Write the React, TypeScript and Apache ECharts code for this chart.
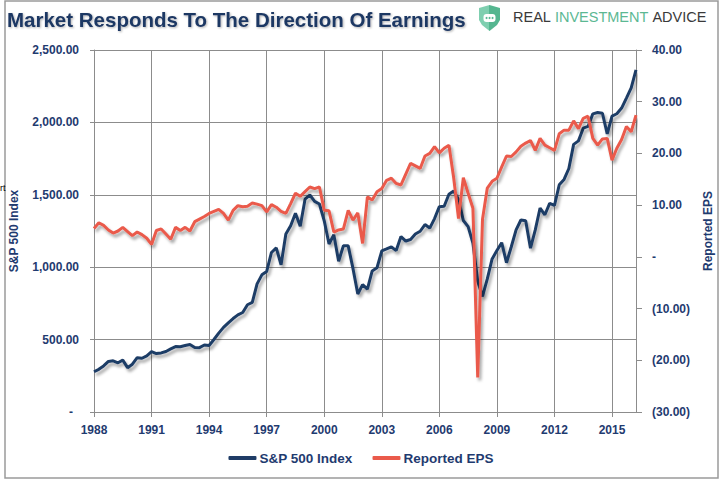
import React, { useEffect, useRef } from "react";
import * as echarts from "echarts";

// Quarterly categories: 1988 Q4 .. 2017 Q1
const FIRST_YEAR = 1988;
const FIRST_QUARTER = 4;
const N_POINTS = 114;
const categories: string[] = [];
for (let i = 0; i < N_POINTS; i++) {
  const q = FIRST_QUARTER - 1 + i;
  categories.push(`${FIRST_YEAR + Math.floor(q / 4)} Q${(q % 4) + 1}`);
}

const sp500Index: number[] = [
  277.7, 294.9, 318.0, 349.2, 353.4, 339.9, 358.0, 306.1, 330.2, 375.2,
  371.2, 387.9, 417.1, 403.7, 408.1, 417.8, 435.7, 451.7, 450.5, 458.9,
  466.5, 445.8, 444.3, 462.7, 459.3, 500.7, 544.8, 584.4, 615.9, 645.5,
  670.6, 687.3, 740.7, 757.1, 885.1, 947.3, 970.4, 1101.8, 1133.8, 1017.0,
  1229.2, 1286.4, 1372.7, 1282.7, 1469.3, 1498.6, 1454.6, 1436.5, 1320.3, 1160.3,
  1224.4, 1040.9, 1148.1, 1147.4, 989.8, 815.3, 879.8, 848.2, 974.5, 996.0,
  1111.9, 1126.2, 1140.8, 1114.6, 1211.9, 1180.6, 1191.3, 1228.8, 1248.3, 1294.8,
  1270.2, 1335.9, 1418.3, 1420.9, 1503.4, 1526.8, 1468.4, 1322.7, 1280.0, 1166.4,
  903.3, 797.9, 919.3, 1057.1, 1115.1, 1169.4, 1030.7, 1141.2, 1257.6, 1325.8,
  1320.6, 1131.4, 1257.6, 1408.5, 1362.2, 1440.7, 1426.2, 1569.2, 1606.3, 1681.6,
  1848.4, 1872.3, 1960.2, 1972.3, 2058.9, 2067.9, 2063.1, 1920.0, 2043.9, 2059.7,
  2098.9, 2168.3, 2238.8, 2362.7,
];

const reportedEps: number[] = [
  5.5, 6.6, 6.1, 5.2, 4.6, 5.0, 5.7, 4.9, 4.1, 4.8,
  4.3, 3.6, 2.4, 5.1, 5.4, 4.4, 3.4, 5.7, 5.1, 5.7,
  5.0, 6.8, 7.3, 7.8, 8.4, 8.8, 9.2, 8.4, 7.1, 9.0,
  9.9, 9.7, 9.8, 10.4, 10.2, 9.9, 8.7, 10.1, 9.6, 8.8,
  8.4, 10.3, 12.3, 11.7, 12.6, 13.5, 13.2, 13.5, 9.0, 8.9,
  4.8, 5.2, 5.4, 9.0, 7.1, 8.5, 2.6, 11.6, 11.0, 12.6,
  13.2, 14.8, 15.2, 14.2, 13.9, 16.0, 18.1, 17.6, 17.1, 19.5,
  20.0, 21.3, 20.1, 21.0, 21.6, 15.2, 7.4, 15.3, 12.3, 9.4,
  -23.3, 7.3, 13.3, 14.6, 15.2, 17.4, 19.5, 19.4, 20.3, 21.4,
  22.0, 22.5, 20.6, 22.9, 21.6, 21.1, 20.6, 23.8, 24.5, 24.5,
  26.3, 24.8, 26.8, 27.2, 22.9, 21.6, 22.8, 22.9, 18.7, 21.0,
  22.7, 25.2, 24.2, 27.4,
];

const TITLE = "Market Responds To The Direction Of Earnings";
const SERIES_NAMES = ["S&P 500 Index", "Reported EPS"];
const LEFT_AXIS = { min: 0, max: 2500, interval: 500 };
const RIGHT_AXIS = { min: -30, max: 40, interval: 10 };

const NAVY = "#1F3C66";
const RED = "#EA5A4B";
const LABEL = "#1F3B70";
const GRID = "#8C8C8C";
const FONT = "'Liberation Sans', Arial, sans-serif";

function leftFmt(v: number) {
  if (v === 0) return "{d|-}";
  return v.toLocaleString("en-US", { minimumFractionDigits: 2, maximumFractionDigits: 2 });
}
function rightFmt(v: number) {
  if (v === 0) return "-";
  if (v < 0) return `(${Math.abs(v).toFixed(2)})`;
  return v.toFixed(2);
}

export default function App() {
  const ref = useRef<HTMLDivElement>(null);
  useEffect(() => {
    if (!ref.current) return;
    const chart = echarts.init(ref.current, undefined, { renderer: "svg" });
    const lineShadow = {
      shadowColor: "rgba(0,0,0,0.35)",
      shadowBlur: 3,
      shadowOffsetX: 2,
      shadowOffsetY: 3,
    };
    chart.setOption({
      animation: false,
      backgroundColor: "#ffffff",
      textStyle: { fontFamily: FONT },
      grid: { left: 90, right: 82, top: 50, bottom: 71, containLabel: false },
      legend: {
        data: SERIES_NAMES,
        left: "center",
        top: 446,
        icon: "roundRect",
        itemWidth: 28,
        itemHeight: 4,
        itemGap: 20,
        textStyle: { color: LABEL, fontWeight: "bold", fontSize: 13.5, fontFamily: FONT, padding: [0, 0, 0, -2] },
      },
      xAxis: {
        type: "category",
        data: categories,
        boundaryGap: false,
        axisLine: { lineStyle: { color: GRID, width: 1 } },
        axisTick: { interval: 11, length: 5, lineStyle: { color: GRID } },
        axisLabel: {
          interval: 11,
          margin: 12,
          color: LABEL,
          fontWeight: "bold",
          fontSize: 12,
          fontFamily: FONT,
          formatter: (v: string) => v.slice(0, 4),
        },
        splitLine: { show: true, interval: 11, lineStyle: { color: GRID, width: 1 } },
      },
      yAxis: [
        {
          type: "value",
          min: LEFT_AXIS.min,
          max: LEFT_AXIS.max,
          interval: LEFT_AXIS.interval,
          position: "left",
          name: SERIES_NAMES[0],
          nameLocation: "middle",
          nameRotate: 90,
          nameGap: 74,
          nameTextStyle: { color: LABEL, fontWeight: "bold", fontSize: 12, fontFamily: FONT },
          axisLine: { show: true, lineStyle: { color: GRID } },
          axisTick: { show: true, length: 4, lineStyle: { color: GRID } },
          axisLabel: {
            margin: 15,
            color: LABEL,
            fontWeight: "bold",
            fontSize: 12,
            fontFamily: FONT,
            formatter: leftFmt,
            rich: { d: { color: LABEL, fontWeight: "bold", fontSize: 12, padding: [0, 6, 0, 0] } },
          },
          splitLine: { show: true, lineStyle: { color: GRID, width: 1 } },
        },
        {
          type: "value",
          min: RIGHT_AXIS.min,
          max: RIGHT_AXIS.max,
          interval: RIGHT_AXIS.interval,
          position: "right",
          name: SERIES_NAMES[1],
          nameLocation: "middle",
          nameRotate: 90,
          nameGap: 66,
          nameTextStyle: { color: LABEL, fontWeight: "bold", fontSize: 12, fontFamily: FONT },
          axisLine: { show: true, lineStyle: { color: GRID } },
          axisTick: { show: true, length: 6, lineStyle: { color: GRID } },
          axisLabel: {
            margin: 16,
            color: LABEL,
            fontWeight: "bold",
            fontSize: 12,
            fontFamily: FONT,
            formatter: rightFmt,
          },
          splitLine: { show: false },
        },
      ],
      series: [
        {
          name: SERIES_NAMES[0],
          type: "line",
          yAxisIndex: 0,
          data: sp500Index,
          symbol: "none",
          color: NAVY,
          lineStyle: { color: NAVY, width: 3, ...lineShadow },
        },
        {
          name: SERIES_NAMES[1],
          type: "line",
          yAxisIndex: 1,
          data: reportedEps,
          symbol: "none",
          color: RED,
          lineStyle: { color: RED, width: 3, ...lineShadow },
        },
      ],
      graphic: [
        {
          type: "rect",
          shape: { x: 5, y: 1, width: 713, height: 477 },
          style: { fill: "none", stroke: "#9A9A9A", lineWidth: 1.5 },
          silent: true,
        },
        {
          type: "text",
          x: 0,
          y: 188,
          style: { text: "rt", fill: "#000", fontSize: 9, fontFamily: FONT, align: "left", verticalAlign: "middle" },
        },
        {
          type: "text",
          x: 7,
          y: 19,
          style: {
            text: TITLE,
            fill: "#1F3864",
            fontSize: 20.5,
            fontWeight: "bold",
            fontFamily: FONT,
            verticalAlign: "middle",
            textShadowColor: "rgba(0,0,0,0.3)",
            textShadowBlur: 2,
            textShadowOffsetX: 1,
            textShadowOffsetY: 1,
          },
        },
        {
          type: "polygon",
          shape: {
            points: [
              [479, 8], [489.5, 5], [500, 8], [500, 20], [497, 25], [489.5, 31], [482, 25], [479, 20],
            ],
          },
          style: {
            fill: new echarts.graphic.LinearGradient(0, 0, 1, 0, [
              { offset: 0, color: "#7FCFB0" },
              { offset: 0.5, color: "#7FCFB0" },
              { offset: 0.5, color: "#55B690" },
              { offset: 1, color: "#55B690" },
            ]),
          },
        },
        {
          type: "rect",
          shape: { x: 483.5, y: 14, width: 12, height: 8, r: 3 },
          style: { fill: "#ffffff" },
        },
        { type: "circle", shape: { cx: 486.5, cy: 18, r: 1 }, style: { fill: "#55B690" } },
        { type: "circle", shape: { cx: 489.5, cy: 18, r: 1 }, style: { fill: "#55B690" } },
        { type: "circle", shape: { cx: 492.5, cy: 18, r: 1 }, style: { fill: "#55B690" } },
        {
          type: "text",
          x: 513,
          y: 17,
          style: {
            text: "{a|REAL} {b|INVESTMENT} {a|ADVICE}",
            verticalAlign: "middle",
            fontFamily: FONT,
            fontSize: 14.5,
            rich: {
              a: { fill: "#3A3A3A", fontSize: 14.5, fontFamily: FONT },
              b: { fill: "#5CB893", fontSize: 14.5, fontFamily: FONT },
            },
          },
        },
      ],
    });
    return () => chart.dispose();
  }, []);
  return (
    <div
      ref={ref}
      style={{ position: "absolute", left: 0, top: 0, width: 722, height: 483, background: "#fff" }}
    />
  );
}
